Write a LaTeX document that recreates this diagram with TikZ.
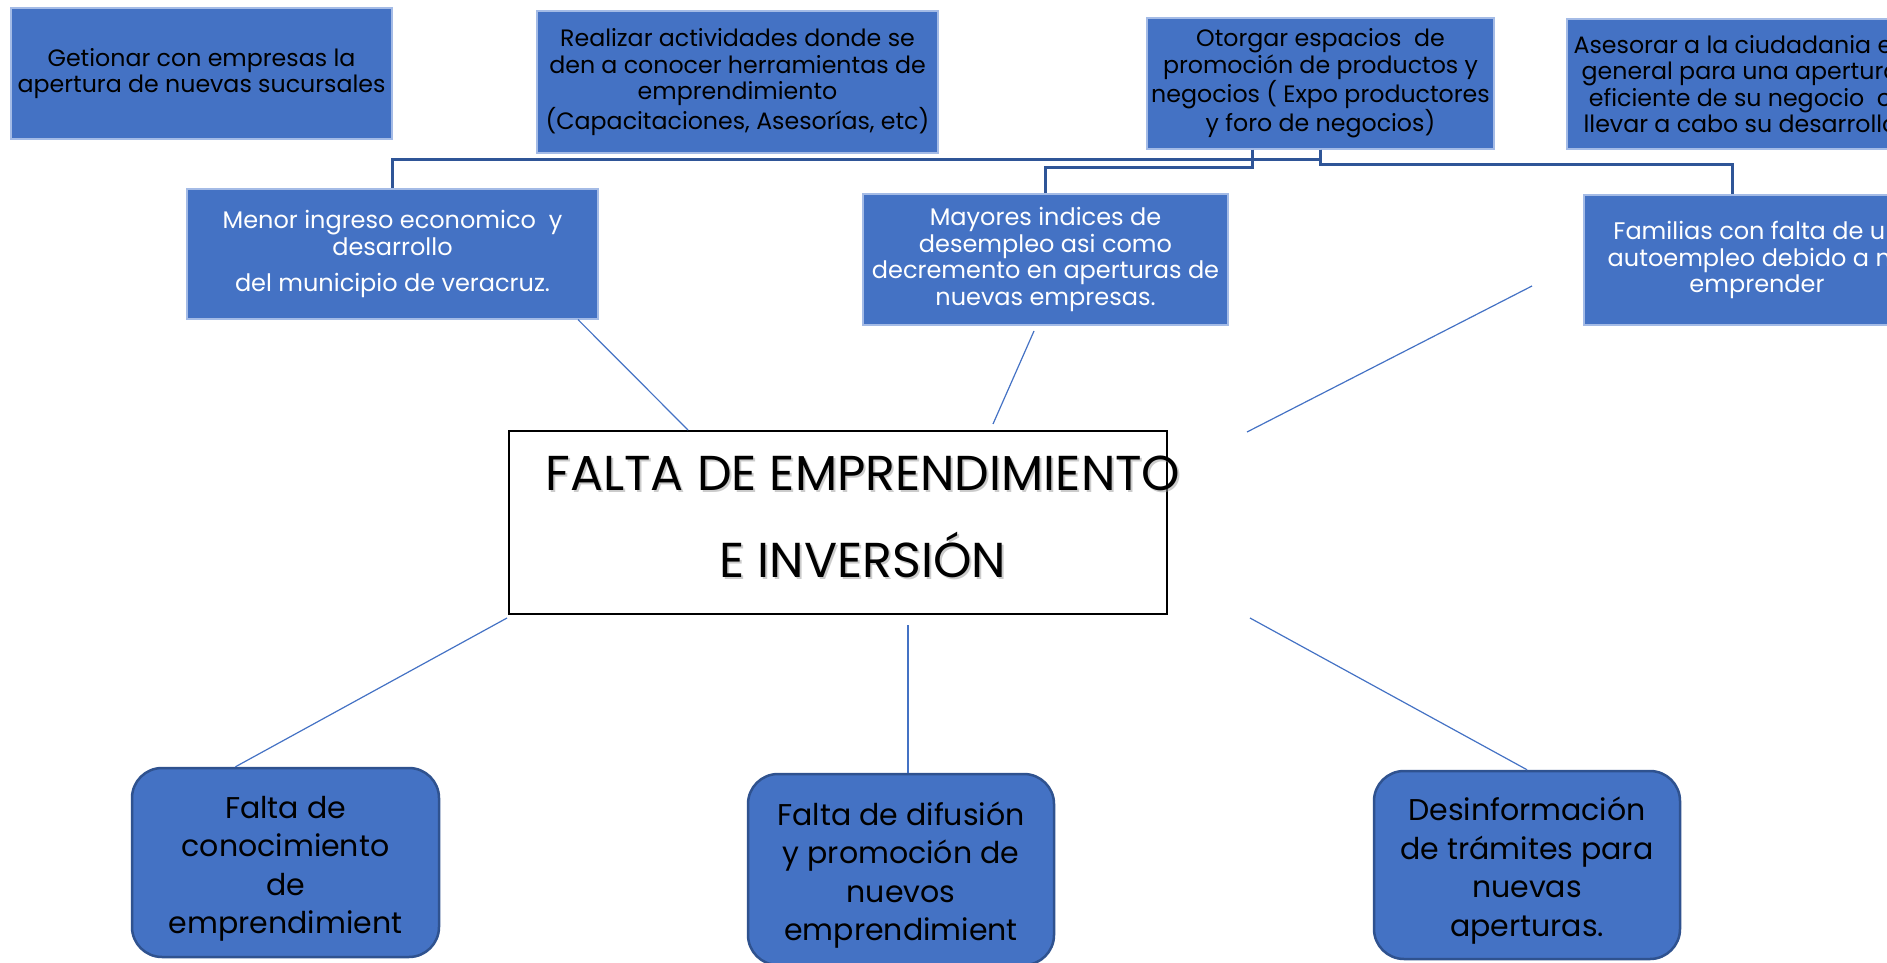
\documentclass[tikz,border=0pt]{standalone}
\usepackage{fontspec}
\setmainfont{Poppins}
\definecolor{boxblue}{HTML}{4472C4}
\definecolor{darkline}{HTML}{2F5597}
\definecolor{edgeblue}{HTML}{2F528F}
\definecolor{lightedge}{HTML}{A4BBE6}
\newcommand{\botlines}[1]{\raisebox{-6pt}[\height][\depth]{\begin{tabular}{@{}c@{}}#1\end{tabular}}}
\begin{document}
\begin{tikzpicture}[x=1pt,y=-1pt,
  topbox/.style={rectangle, fill=boxblue, draw=lightedge, line width=1.2pt, inner sep=0pt, align=center, text=black, font=\fontsize{23.7}{26.5}\selectfont},
  midbox/.style={topbox, text=white, font=\fontsize{24}{26.5}\selectfont},
  botbox/.style={rectangle, rounded corners=30pt, fill=boxblue, draw=edgeblue, line width=2.5pt, inner sep=0pt, align=center, text=black, font=\fontsize{30}{38.5}\selectfont},
  mainbox/.style={rectangle, draw=black, line width=2pt, fill=white, inner sep=0pt},
  titletext/.style={align=center, inner sep=0pt, font=\fontsize{49}{87}\selectfont},
  elbow/.style={draw=darkline, line width=3pt},
  thin/.style={draw=boxblue, line width=1.2pt}
]
\useasboundingbox (0,0) rectangle (1887,963);
\clip (0,0) rectangle (1887,963);

% top row
\node[topbox, minimum width=381pt, minimum height=131pt] (gest) at (201.5,73.5) {Getionar con empresas la\\apertura de nuevas sucursales};
\node[topbox, minimum width=401pt, minimum height=142pt] (real) at (737.5,82) {Realizar actividades donde se\\den a conocer herramientas de\\emprendimiento\\(Capacitaciones, Asesorías, etc)};
\node[topbox, minimum width=347pt, minimum height=131pt] (otor) at (1320.5,83.5) {Otorgar espacios\ \ de\\promoción de productos y\\negocios ( Expo productores\\y foro de negocios)};
\node[topbox, minimum width=347pt, minimum height=130pt] (ases) at (1740.5,84) {Asesorar a la ciudadania en\\general para una apertura\\eficiente de su negocio\ \ o\\llevar a cabo su desarrollo};

% middle row
\node[midbox, minimum width=411pt, minimum height=130pt] (menor) at (392.5,254) {Menor ingreso economico\ \ y\\desarrollo\\[10pt]del municipio de veracruz.};
\node[midbox, minimum width=365pt, minimum height=131pt] (mayor) at (1045.5,259.5) {Mayores indices de\\desempleo asi como\\decremento en aperturas de\\nuevas empresas.};
\node[midbox, minimum width=346pt, minimum height=130pt] (fam) at (1757,260) {Familias con falta de un\\autoempleo debido a no\\emprender};

% central problem
\node[mainbox, minimum width=658pt, minimum height=183pt] (main) at (838,522.5) {};
\node[titletext, text=black!40, opacity=0.5] (titleshadow) at (865,518.5) {FALTA DE EMPRENDIMIENTO\\E INVERSIÓN};
\node[titletext, text=black] (title) at (863,516.5) {FALTA DE EMPRENDIMIENTO\\E INVERSIÓN};

% bottom row
\node[botbox, minimum width=307pt, minimum height=189pt] (b1) at (285.5,862.5) {\botlines{Falta de\\conocimiento\\de\\emprendimient}};
\node[botbox, minimum width=306pt, minimum height=191pt] (b2) at (901,869.5) {\botlines{Falta de difusión\\y promoción de\\nuevos\\emprendimient}};
\node[botbox, minimum width=306pt, minimum height=188pt] (b3) at (1527,865) {\botlines{Desinformación\\de trámites para\\nuevas\\aperturas.}};

% elbow connectors
\draw[elbow] (otor.south) -- (otor.south |- 0,159) -| (menor.north);
\draw[elbow] ([xshift=-68pt]otor.south) -- ([xshift=-68pt]otor.south |- 0,167) -| (mayor.north);
\draw[elbow] (otor.south) -- (otor.south |- 0,164) -| ([xshift=-25pt]fam.north);

% free ends
\coordinate (m1) at (1034,331);
\coordinate (m2) at (993,424);
\coordinate (f1) at (1532,286);
\coordinate (f2) at (1247,432);
\coordinate (s1) at (507,618);
\coordinate (s2) at (908,625);
\coordinate (s3) at (1250,618);

% thin connectors
\draw[thin] ([xshift=185.5pt]menor.south) -- ([xshift=-150pt]main.north);
\draw[thin] (m1) -- (m2);
\draw[thin] (f1) -- (f2);
\draw[thin] (s1) -- ([xshift=-50pt]b1.north);
\draw[thin] (s2) -- ([xshift=7pt]b2.north);
\draw[thin] (s3) -- (b3.north);
\end{tikzpicture}
\end{document}
